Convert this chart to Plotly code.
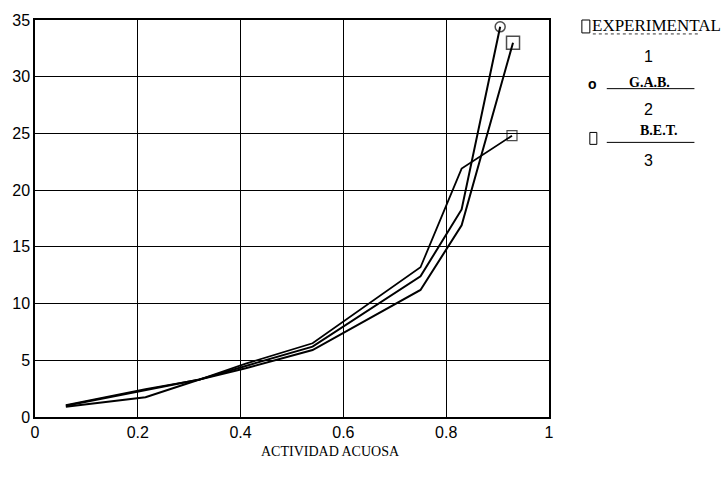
import plotly.graph_objects as go

# Data
x_exp = [0.06, 0.215, 0.32, 0.41, 0.54, 0.75, 0.83, 0.93]
y_exp = [0.9, 1.75, 3.3, 4.3, 5.9, 11.2, 16.9, 33.0]
x_gab = [0.06, 0.215, 0.32, 0.41, 0.54, 0.75, 0.83, 0.905]
y_gab = [1.0, 2.4, 3.3, 4.5, 6.2, 12.4, 18.3, 34.4]
x_bet = [0.06, 0.215, 0.32, 0.41, 0.54, 0.75, 0.83, 0.928]
y_bet = [1.05, 2.45, 3.3, 4.7, 6.5, 13.2, 21.9, 24.8]

x_ticks = [0, 0.2, 0.4, 0.6, 0.8, 1]
x_tick_text = ["0", "0.2", "0.4", "0.6", "0.8", "1"]
y_ticks = [0, 5, 10, 15, 20, 25, 30, 35]

W, H = 723, 483
L, R, T, B = 33, 174, 18, 66
PW, PH = W - L - R, H - T - B


def px(xp):
    return (xp - L) / PW


def py(yp):
    return (H - B - yp) / PH


fig = go.Figure()


def end_sizes(n, s):
    return [0] * (n - 1) + [s]


fig.add_trace(go.Scatter(x=x_exp, y=y_exp, mode="lines+markers",
                         line=dict(color="black", width=2),
                         marker=dict(symbol="square-open", size=end_sizes(len(x_exp), 13),
                                     color="black", line=dict(width=1.5)),
                         showlegend=False))
fig.add_trace(go.Scatter(x=x_gab, y=y_gab, mode="lines+markers",
                         line=dict(color="black", width=2),
                         marker=dict(symbol="circle-open", size=end_sizes(len(x_gab), 10),
                                     color="black", line=dict(width=1.5)),
                         showlegend=False))
fig.add_trace(go.Scatter(x=x_bet, y=y_bet, mode="lines+markers",
                         line=dict(color="black", width=1.8),
                         marker=dict(symbol="square-open", size=end_sizes(len(x_bet), 10),
                                     color="black", line=dict(width=1.2)),
                         showlegend=False))

serif = "Liberation Serif, Times New Roman, serif"
sans = "Liberation Sans, Arial, sans-serif"


def note(xp, yp, text, family, size, anchor="center"):
    return dict(x=px(xp), y=py(yp), xref="paper", yref="paper", text=text,
                showarrow=False, font=dict(family=family, size=size, color="black"),
                xanchor=anchor, yanchor="middle", borderpad=0)


annotations = [
    note(591, 24, "EXPERIMENTAL", serif, 17, "left"),
    note(649, 55, "1", sans, 16),
    note(593, 82, "<b>o</b>", sans, 14),
    note(650, 81, "<b>G.A.B.</b>", serif, 14),
    note(649, 108, "2", sans, 16),
    note(659, 129, "<b>B.E.T.</b>", serif, 14),
    note(649, 159, "3", sans, 16),
    note(330, 452, "ACTIVIDAD ACUOSA", serif, 14),
]


def pline(x0, x1, y, width=1, dash="solid"):
    return dict(type="line", xref="paper", yref="paper", x0=px(x0), x1=px(x1),
                y0=py(y), y1=py(y), line=dict(color="black", width=width, dash=dash))


def prect(x0, x1, y0, y1):
    return dict(type="rect", xref="paper", yref="paper", x0=px(x0), x1=px(x1),
                y0=py(y0), y1=py(y1), line=dict(color="black", width=1))


shapes = [
    prect(582, 590, 18, 31),
    pline(593, 700, 32, 0.8, "dot"),
    pline(607, 695, 87),
    prect(590, 597, 131, 143),
    pline(607, 695, 141),
]

fig.update_layout(
    width=W, height=H,
    margin=dict(l=L, r=R, t=T, b=B, pad=0),
    paper_bgcolor="white", plot_bgcolor="white",
    annotations=annotations, shapes=shapes,
    xaxis=dict(range=[0, 1], tickvals=x_ticks, ticktext=x_tick_text,
               showgrid=True, gridcolor="black", gridwidth=1,
               showline=True, linecolor="black", linewidth=1.5, mirror=True,
               zeroline=False, ticks="", ticklen=0,
               tickfont=dict(family=sans, size=16, color="black")),
    yaxis=dict(range=[0, 35], tickvals=y_ticks,
               showgrid=True, gridcolor="black", gridwidth=1,
               showline=True, linecolor="black", linewidth=1.5, mirror=True,
               zeroline=False, ticks="", ticklen=0,
               tickfont=dict(family=sans, size=16, color="black")),
)

fig.write_html("out.html")
